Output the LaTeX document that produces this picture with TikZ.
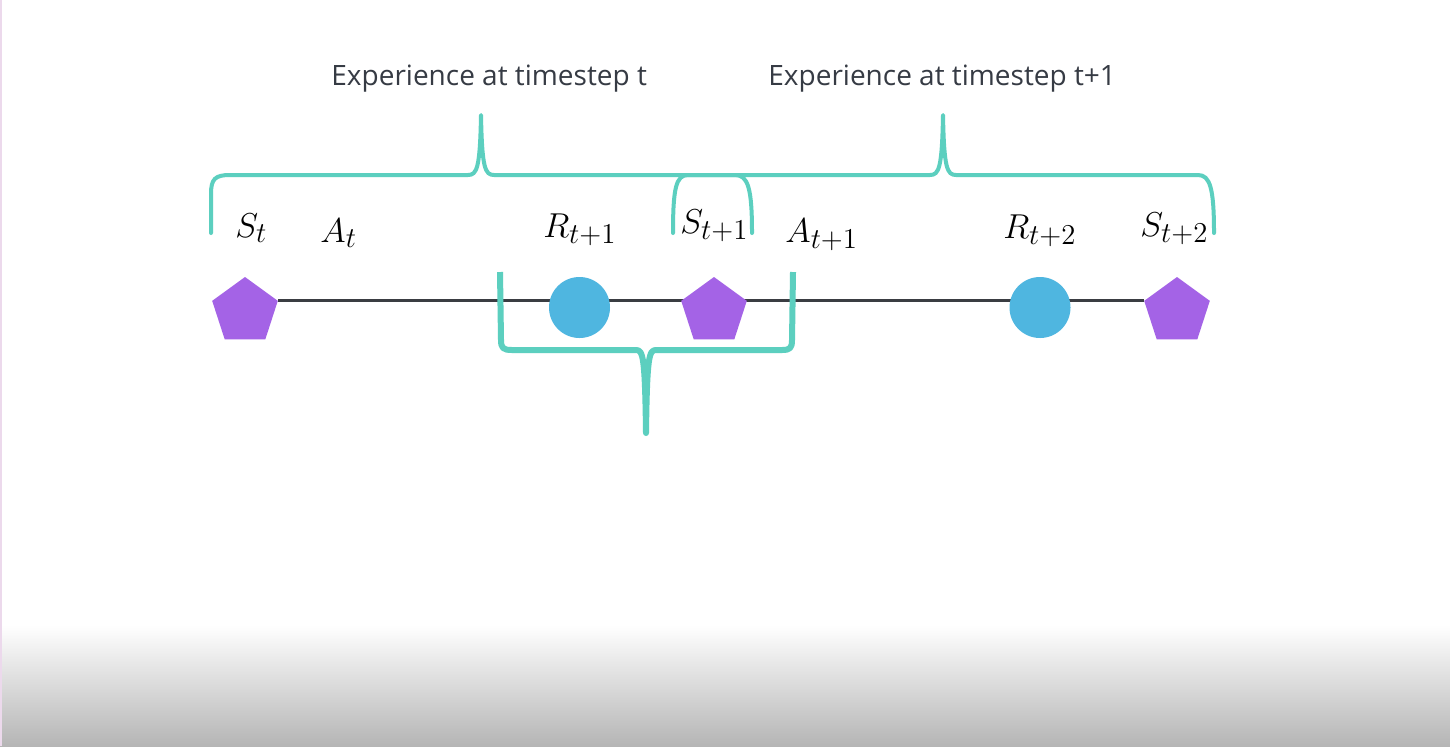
\documentclass[tikz,border=0pt]{standalone}
\usepackage{fontspec}
\newfontfamily\headfont{Open Sans}
\DeclareMathSizes{16}{16}{14.5}{11}
\usetikzlibrary{shapes.geometric,backgrounds}
\definecolor{teal1}{HTML}{5CCFBF}
\definecolor{purp}{HTML}{A463E6}
\definecolor{blu}{HTML}{4FB6E0}
\definecolor{linegray}{HTML}{3A3D42}
\definecolor{headgray}{HTML}{363B44}
\tikzset{
  statenode/.style={regular polygon, regular polygon sides=5, minimum size=34.5pt, inner sep=0pt, fill=purp, draw=none},
  rewardnode/.style={circle, minimum size=30.5pt, inner sep=0pt, fill=blu, draw=none},
  varlabel/.style={anchor=base west, inner sep=0pt, font=\fontsize{16}{18}\selectfont},
  headlabel/.style={anchor=base west, inner sep=0pt, text=headgray, font=\headfont\fontsize{14}{16}\selectfont},
  bracepath/.style={draw=teal1, line width=2pt, line cap=round, line join=round},
  bigbrace/.style={draw=teal1, line width=3pt, line join=round},
  timeline/.style={draw=linegray, line width=1.5pt}
}
\begin{document}
\begin{tikzpicture}[x=0.5pt, y=-0.5pt]
\useasboundingbox (0,0) rectangle (1450,746);
% background
\begin{scope}[on background layer]
  \fill[white] (0,0) rectangle (1450,746);
  \shade[top color=white, bottom color=black!29] (0,625) rectangle (1450,746);
  \fill[violet!15] (0,0) rectangle (2,746);
\end{scope}
% nodes
\node[statenode] (s0) at (245,311.5) {};
\node[rewardnode] (r1) at (579.5,307.5) {};
\node[statenode] (s1) at (714,311.5) {};
\node[rewardnode] (r2) at (1040,307.5) {};
\node[statenode] (s2) at (1177,311.5) {};
\begin{scope}[on background layer]
  \draw[timeline] (s0.corner 5) -- (s2.corner 2);
\end{scope}
% labels
\node[varlabel] (ls0) at (235,237) {$S_t$};
\node[varlabel] (la0) at (320,242) {$A_t$};
\node[varlabel] (lr1) at (543,237) {$R_{t+1}$};
\node[varlabel] (ls1) at (680,233) {$S_{t+1}$};
\node[varlabel] (la1) at (785,242) {$A_{t+1}$};
\node[varlabel] (lr2) at (1003,238) {$R_{t+2}$};
\node[varlabel] (ls2) at (1140,236) {$S_{t+2}$};
% headings
\node[headlabel] (h1) at (331,85) {Experience at timestep t};
\node[headlabel] (h2) at (768,85) {Experience at timestep t+1};
% top brace 1
\draw[bracepath] (211,233) -- (211,194) .. controls (211,179) and (215,175) .. (230,175)
  -- (468,175) .. controls (477,175) and (480,168) .. (481,115)
  .. controls (482,168) and (485,175) .. (494,175)
  -- (735,175) .. controls (748,175) and (752,188) .. (752,233);
% top brace 2
\draw[bracepath] (673,233) .. controls (673,188) and (676,175) .. (688,175)
  -- (930,175) .. controls (939,175) and (942,168) .. (943,115)
  .. controls (944,168) and (947,175) .. (956,175)
  -- (1198,175) .. controls (1210,175) and (1214,188) .. (1214,233);
% bottom brace
\draw[bigbrace] (500,272) -- (501,340) .. controls (501,348) and (503,350) .. (512,350)
  -- (636,350) .. controls (643,350) and (645,356) .. (646,433)
  .. controls (647,356) and (649,350) .. (656,350)
  -- (782,350) .. controls (790,350) and (792,348) .. (792,340) -- (793,272);
\end{tikzpicture}
\end{document}
